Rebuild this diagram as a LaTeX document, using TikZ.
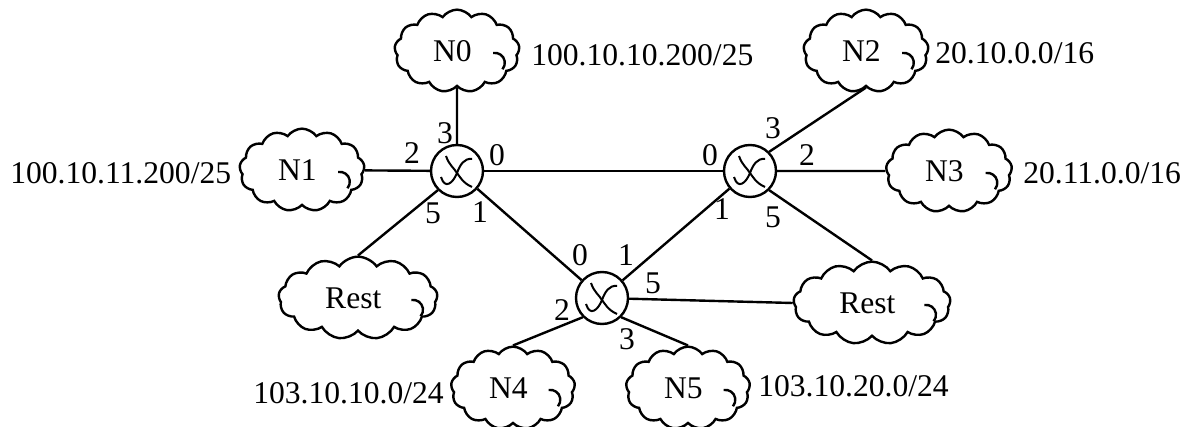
\documentclass[tikz,border=0pt]{standalone}
\usepackage{fontspec}
\setmainfont{Liberation Serif}
\usetikzlibrary{shapes.symbols}
\tikzset{
  lab/.style={font=\fontsize{23.7}{28}\selectfont,inner sep=0pt},
  net/.style={lab,draw,line width=1.8pt,cloud,cloud puffs=13,cloud puff arc=110,aspect=1.5,inner sep=0pt,minimum width=#1*0.75pt,minimum height=62pt,execute at end node={\kern7pt}},
  link/.style={line width=1.8pt},
  router/.style={draw,circle,line width=1.8pt,minimum size=39pt,inner sep=0pt,
    path picture={
      \draw[line width=1.5pt,shift={(path picture bounding box.center)}] (-16,-6) .. controls (-12,-19) and (-4,-12) .. (0,-2) .. controls (3,6) and (7,13) .. (15,12);
      \draw[line width=1.5pt,shift={(path picture bounding box.center)}] (15,-16) .. controls (6,-12) and (3,-6) .. (0,-2) .. controls (-3,3) and (-8,6) .. (-11,15);
    }},
}
\begin{document}
\begin{tikzpicture}[x=0.75pt,y=0.75pt,yscale=-1,xscale=1]
\useasboundingbox (0,0) rectangle (1192,427);
%Routers
\node[router] (r0) at (457,171) {};
\node[router] (r1) at (750,171) {};
\node[router] (r2) at (602,298) {};
%Clouds
\node[net=125] (n0) at (457,51) {N0};
\node[net=125] (n1) at (302,170) {N1};
\node[net=125] (n2) at (866,51) {N2};
\node[net=126] (n3) at (949,171) {N3};
\node[net=159] (restl) at (358,298) {Rest};
\node[net=157] (restr) at (872,303) {Rest};
\node[net=124] (n4) at (513,388) {N4};
\node[net=124] (n5) at (688,388) {N5};
%Curls
\foreach \c in {n0,n1,n2,n3,restl,restr,n4,n5}
  \draw[link] (\c.east) ++(-27,2) arc[start angle=-100,end angle=40,radius=10];
%Links
\draw[link] (r0) -- (n0);
\draw[link] (r0) -- (n1);
\draw[link] (r0.south west) -- (restl.north);
\draw[link] (r0) -- (r1);
\draw[link] (r0) -- (r2);
\draw[link] (r1.north east) -- (n2.south);
\draw[link] (r1) -- (n3);
\draw[link] (r1.south east) -- (restr.north);
\draw[link] (r1) -- (r2);
\draw[link] (r2) -- (restr.west);
\draw[link] (r2.south west) -- (n4.north);
\draw[link] (r2.south east) -- (n5.north);
%Ports
\node[lab] (p03) at (445,133) {3};
\node[lab] (p02) at (412,153) {2};
\node[lab] (p00) at (497,155) {0};
\node[lab] (p05) at (433,213) {5};
\node[lab] (p01) at (480,212) {1};
\node[lab] (p13) at (773,128) {3};
\node[lab] (p12) at (807,155) {2};
\node[lab] (p10) at (710,155) {0};
\node[lab] (p11) at (722,209) {1};
\node[lab] (p15) at (773,217) {5};
\node[lab] (p20) at (580,255) {0};
\node[lab] (p21) at (626,255) {1};
\node[lab] (p25) at (653,283) {5};
\node[lab] (p22) at (562,310) {2};
\node[lab] (p23) at (627,339) {3};
%Addresses
\node[lab,anchor=west] (a0) at (531,55) {100.10.10.200/25};
\node[lab,anchor=west] (a1) at (10,173) {100.10.11.200/25};
\node[lab,anchor=west] (a2) at (935,53) {20.10.0.0/16};
\node[lab,anchor=west] (a3) at (1023,173) {20.11.0.0/16};
\node[lab,anchor=west] (a4) at (253,393) {103.10.10.0/24};
\node[lab,anchor=west] (a5) at (758,386) {103.10.20.0/24};
\end{tikzpicture}
\end{document}
